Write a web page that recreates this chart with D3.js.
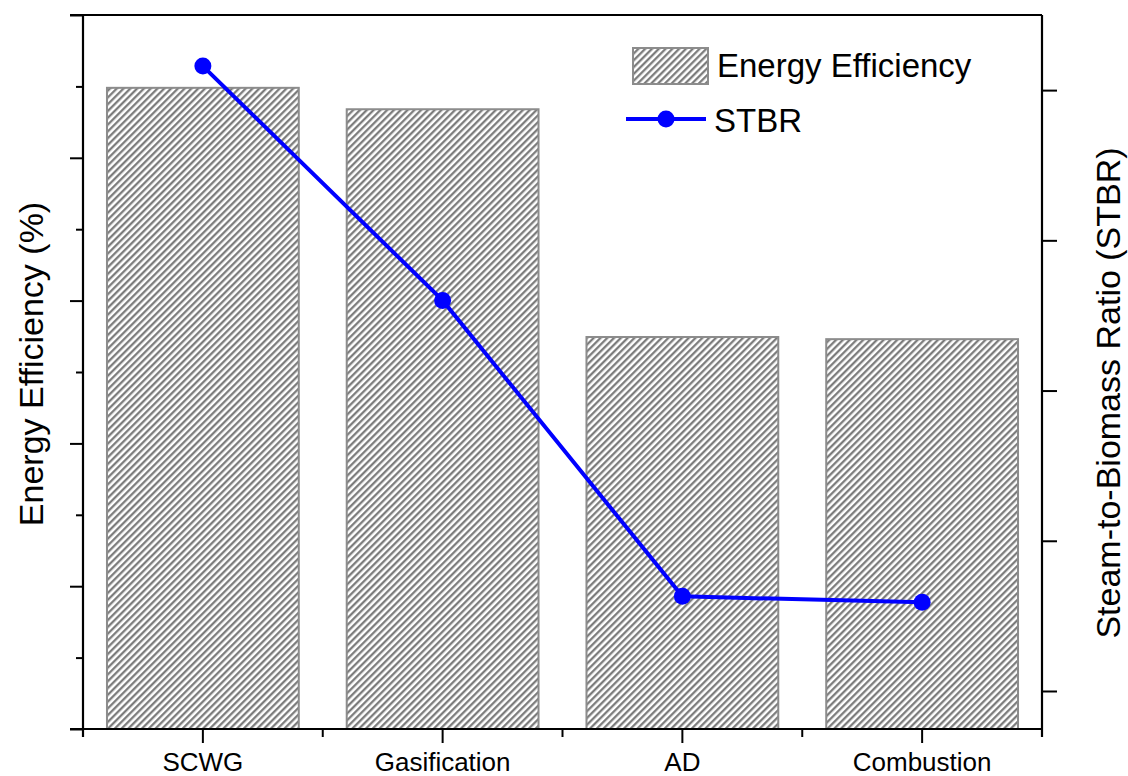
<!DOCTYPE html>
<html>
<head>
<meta charset="utf-8">
<script src="https://cdn.jsdelivr.net/npm/d3@7"></script>
<style>
  body { margin: 0; background: #fff; }
  text { font-family: Arial, "Liberation Sans", sans-serif; fill: #000; }
</style>
</head>
<body>
<svg id="chart"></svg>
<script>
// data
const categories = ["SCWG", "Gasification", "AD", "Combustion"];
const efficiency = [89.8, 86.8, 54.9, 54.6];
const stbr = [4.16, 2.6, 0.63, 0.59];
const leftTicks = [0, 20, 40, 60, 80, 100];
const leftMinor = [10, 30, 50, 70, 90];
const rightTicks = [0, 1, 2, 3, 4];

const width = 1128, height = 776;
const margin = { top: 15, right: 86, bottom: 47, left: 83 };

const svg = d3.select("#chart")
    .attr("width", width)
    .attr("height", height);

const defs = svg.append("defs");
const pat = defs.append("pattern")
    .attr("id", "hatch")
    .attr("patternUnits", "userSpaceOnUse")
    .attr("width", 4.8)
    .attr("height", 4.8)
    .attr("patternTransform", "rotate(45)");
pat.append("rect").attr("width", 4.8).attr("height", 4.8).attr("fill", "#fff");
pat.append("line")
    .attr("x1", 1.2).attr("y1", 0).attr("x2", 1.2).attr("y2", 4.8)
    .attr("stroke", "#767676")
    .attr("stroke-width", 2.2);

const x = d3.scaleBand()
    .domain(categories)
    .range([margin.left, width - margin.right])
    .paddingInner(0.2)
    .paddingOuter(0.1);

const y = d3.scaleLinear()
    .domain([0, 100])
    .range([height - margin.bottom, margin.top]);

const y2 = d3.scaleLinear()
    .domain([-0.253, 4.5])
    .range([height - margin.bottom, margin.top]);

// bars
svg.append("g")
    .selectAll("rect")
    .data(categories)
    .join("rect")
    .attr("x", d => x(d))
    .attr("width", x.bandwidth())
    .attr("y", (d, i) => y(efficiency[i]))
    .attr("height", (d, i) => y(0) - y(efficiency[i]))
    .attr("fill", "url(#hatch)")
    .attr("stroke", "#8c8c8c")
    .attr("stroke-width", 2);

// axes
const x0 = margin.left, x1 = width - margin.right;
const yb = height - margin.bottom, yt = margin.top;

svg.append("g")
    .attr("transform", `translate(${x0},0)`)
    .call(d3.axisLeft(y).tickValues(leftTicks).tickSize(13).tickFormat(""))
    .call(g => g.select(".domain").remove());
svg.append("g")
    .attr("transform", `translate(${x0},0)`)
    .call(d3.axisLeft(y).tickValues(leftMinor).tickSize(7).tickFormat(""))
    .call(g => g.select(".domain").remove());

svg.append("g")
    .attr("transform", `translate(${x1},0)`)
    .call(d3.axisRight(y2).tickValues(rightTicks).tickSize(15).tickFormat(""))
    .call(g => g.select(".domain").remove());

// category ticks (center) and boundary ticks
const xAxis = svg.append("g")
    .attr("transform", `translate(0,${yb})`)
    .call(d3.axisBottom(x).tickSize(14))
    .call(g => g.select(".domain").remove());
xAxis.selectAll("text")
    .attr("y", 42)
    .attr("dy", null)
    .style("font-size", "26px")
    .attr("fill", "#000");

const step = x.step();
const bounds = d3.range(1, categories.length).map(i => x0 + x.paddingOuter() * step + i * step - x.paddingInner() * step / 2);
svg.append("g")
    .selectAll("line")
    .data(bounds)
    .join("line")
    .attr("x1", d => d).attr("x2", d => d)
    .attr("y1", yb).attr("y2", yb + 8);

svg.selectAll(".tick line, g line").attr("stroke", "#000").attr("stroke-width", 2);

// frame
const frame = svg.append("g").attr("stroke", "#000").attr("stroke-width", 2.2).attr("fill", "none");
frame.append("line").attr("x1", x0 - 13).attr("x2", x1).attr("y1", yt).attr("y2", yt);
frame.append("line").attr("x1", x0 - 13).attr("x2", x1).attr("y1", yb).attr("y2", yb);
frame.append("line").attr("x1", x0).attr("x2", x0).attr("y1", yt).attr("y2", yb + 8);
frame.append("line").attr("x1", x1).attr("x2", x1).attr("y1", yt).attr("y2", yb + 8);

// STBR line
const line = d3.line()
    .x((d, i) => x(categories[i]) + x.bandwidth() / 2)
    .y(d => y2(d));

svg.append("path")
    .datum(stbr)
    .attr("d", line)
    .attr("fill", "none")
    .attr("stroke", "#0000ff")
    .attr("stroke-width", 4);

svg.append("g")
    .selectAll("circle")
    .data(stbr)
    .join("circle")
    .attr("cx", (d, i) => x(categories[i]) + x.bandwidth() / 2)
    .attr("cy", d => y2(d))
    .attr("r", 8.5)
    .attr("fill", "#0000ff");

// axis titles
svg.append("text")
    .attr("transform", `translate(43,364) rotate(-90)`)
    .attr("text-anchor", "middle")
    .style("font-size", "34px")
    .text("Energy Efficiency (%)");

svg.append("text")
    .attr("transform", `translate(1120,393) rotate(-90)`)
    .attr("text-anchor", "middle")
    .style("font-size", "34px")
    .text("Steam-to-Biomass Ratio (STBR)");

// legend
const legend = svg.append("g");
legend.append("rect")
    .attr("x", 633).attr("y", 48)
    .attr("width", 75).attr("height", 36)
    .attr("fill", "url(#hatch)")
    .attr("stroke", "#8c8c8c")
    .attr("stroke-width", 2);
legend.append("text")
    .attr("x", 717).attr("y", 77)
    .style("font-size", "33px")
    .text("Energy Efficiency");
legend.append("line")
    .attr("x1", 626).attr("x2", 706)
    .attr("y1", 119).attr("y2", 119)
    .attr("stroke", "#0000ff")
    .attr("stroke-width", 4);
legend.append("circle")
    .attr("cx", 666).attr("cy", 119).attr("r", 8.5)
    .attr("fill", "#0000ff");
legend.append("text")
    .attr("x", 714).attr("y", 132)
    .style("font-size", "33px")
    .text("STBR");
</script>
</body>
</html>
